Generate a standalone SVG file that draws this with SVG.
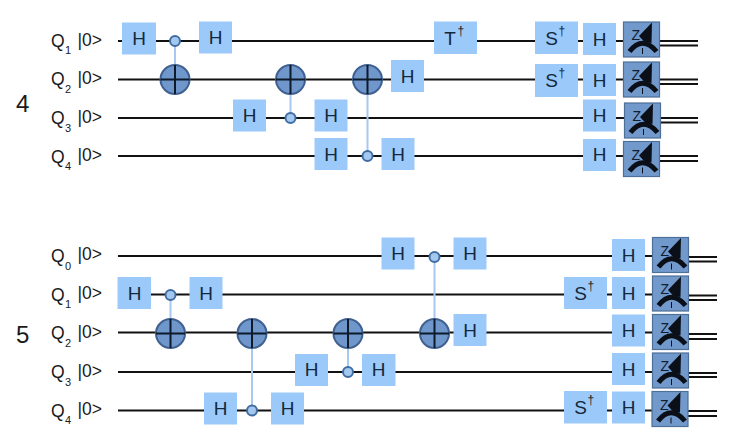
<svg xmlns="http://www.w3.org/2000/svg" width="733" height="447" viewBox="0 0 733 447">
<style>
text{font-family:"Liberation Sans",Arial,sans-serif;fill:#1a1a1a}
.w{stroke:#111;stroke-width:2;fill:none}
.v{stroke:#a8c8f0;stroke-width:2;fill:none}
.g{fill:#9bcafa}
.t{font-size:19px;text-anchor:middle;fill:#14283c}
.s{font-size:12px}
.l{font-size:17.500px}
.b{font-size:11px}
.n{font-size:24px}
.c{fill:#a3c8f0;stroke:#3f6da3;stroke-width:2}
.o{fill:#6f97cc;stroke:#3f6090;stroke-width:2}
.x{stroke:#0c1a2a;stroke-width:2}
.z{font-size:14px;fill:#10202f}
</style>
<defs>
<g id="meter">
<rect x="0" y="0" width="36" height="35" fill="#7299cb" stroke="#4e6f98" stroke-width="1.200"/>
<path d="M28.500 0.500L15.500 14L21 20L28 21Z" fill="#0a0f18"/>
<path d="M6 29.500Q19 13 33 29.500" fill="none" stroke="#0a0f18" stroke-width="5"/>
<path d="M19 26V32" stroke="#0a0f18" stroke-width="1"/>
</g>
<g id="cnot">
<circle r="14.500" class="o"/>
<path d="M-14.500 0H14.500M0 -14.500V14.500" class="x"/>
</g>
</defs>

<g id="connectors">
<path class="w" d="M118 41H623M118 79.500H623M118 118H624M118 156H623"/>
<path class="w" d="M660 41H698M660 45.500H698M660 79.500H698M660 84H698M661 118H698M661 122.500H698M660 156H698M660 161H698"/>
<path class="w" d="M118 256H652M118 294.500H652M118 332.500H652M118 372H652M118 410.500H652"/>
<path class="w" d="M689 257H717M689 261.500H717M689 295.500H717M689 300H717M689 334H717M689 339H717M689 373H717M689 377H717M688 411H717M688 416H717"/>
<path class="v" d="M175 41V79M290.500 79V118M367.500 79V156M170.500 295V333M252 333V410M348 333V372M434.500 257V333"/>
</g>

<g id="labels-4">
<text class="n" x="16" y="112">4</text>
<g id="l4q1"><text class="l" x="51" y="46.500">Q</text><text class="b" x="65" y="54">1</text><text class="l" x="77.500" y="45.500">|0&gt;</text></g>
<g id="l4q2"><text class="l" x="51" y="85">Q</text><text class="b" x="65" y="93">2</text><text class="l" x="77.500" y="84">|0&gt;</text></g>
<g id="l4q3"><text class="l" x="51" y="124">Q</text><text class="b" x="65" y="131.500">3</text><text class="l" x="77.500" y="122.500">|0&gt;</text></g>
<g id="l4q4"><text class="l" x="51" y="162.500">Q</text><text class="b" x="65" y="170">4</text><text class="l" x="77.500" y="161">|0&gt;</text></g>
</g>
<g id="labels-5">
<text class="n" x="16" y="343">5</text>
<g id="l5q0"><text class="l" x="51" y="262">Q</text><text class="b" x="65" y="270">0</text><text class="l" x="77.500" y="260">|0&gt;</text></g>
<g id="l5q1"><text class="l" x="51" y="301">Q</text><text class="b" x="65" y="307.500">1</text><text class="l" x="77.500" y="298.500">|0&gt;</text></g>
<g id="l5q2"><text class="l" x="51" y="339">Q</text><text class="b" x="65" y="346.500">2</text><text class="l" x="77.500" y="337.500">|0&gt;</text></g>
<g id="l5q3"><text class="l" x="51" y="378">Q</text><text class="b" x="65" y="386">3</text><text class="l" x="77.500" y="376.500">|0&gt;</text></g>
<g id="l5q4"><text class="l" x="51" y="416.500">Q</text><text class="b" x="65" y="424">4</text><text class="l" x="77.500" y="415">|0&gt;</text></g>
</g>

<g id="a-h1"><rect class="g" x="122" y="22.500" width="34" height="32"/><text class="t" x="139" y="45">H</text></g>
<g id="a-c1"><circle class="c" cx="175" cy="41" r="5"/></g>
<g id="a-x1"><use href="#cnot" x="175" y="79.500"/></g>
<g id="a-h2"><rect class="g" x="199" y="21.500" width="33" height="32"/><text class="t" x="215.500" y="44">H</text></g>
<g id="a-h3"><rect class="g" x="233" y="99.500" width="33" height="32"/><text class="t" x="249.500" y="122">H</text></g>
<g id="a-c2"><circle class="c" cx="290.500" cy="118" r="5"/></g>
<g id="a-x2"><use href="#cnot" x="290.500" y="79.500"/></g>
<g id="a-h4"><rect class="g" x="314.500" y="99.500" width="33" height="32"/><text class="t" x="331" y="122">H</text></g>
<g id="a-h5"><rect class="g" x="314.500" y="138" width="33" height="32"/><text class="t" x="331" y="160.500">H</text></g>
<g id="a-c3"><circle class="c" cx="367.500" cy="156" r="5"/></g>
<g id="a-x3"><use href="#cnot" x="367.500" y="79.500"/></g>
<g id="a-h6"><rect class="g" x="381.500" y="138" width="33" height="32"/><text class="t" x="398" y="160.500">H</text></g>
<g id="a-h7"><rect class="g" x="391" y="60" width="33" height="32"/><text class="t" x="407.500" y="82.500">H</text></g>
<g id="a-t"><rect class="g" x="434" y="21.500" width="43" height="32.500"/><text class="t" x="450" y="45">T</text><text class="s" x="457.500" y="35">†</text></g>
<g id="a-s1"><rect class="g" x="535" y="21.500" width="43" height="32.500"/><text class="t" x="551.500" y="45">S</text><text class="s" x="558.500" y="35">†</text></g>
<g id="a-s2"><rect class="g" x="535" y="64" width="43" height="33"/><text class="t" x="551.500" y="87">S</text><text class="s" x="558.500" y="77">†</text></g>
<g id="a-h8"><rect class="g" x="583" y="23" width="33" height="32"/><text class="t" x="599.500" y="45.500">H</text></g>
<g id="a-h9"><rect class="g" x="583" y="64" width="33" height="32"/><text class="t" x="599.500" y="87">H</text></g>
<g id="a-h10"><rect class="g" x="583" y="99.500" width="33" height="32"/><text class="t" x="599.500" y="122">H</text></g>
<g id="a-h11"><rect class="g" x="583" y="139" width="33" height="32"/><text class="t" x="599.500" y="161">H</text></g>
<g id="a-m1" transform="translate(623.500 22)"><use href="#meter"/><text class="z" x="8" y="18">Z</text></g>
<g id="a-m2" transform="translate(623.500 62)"><use href="#meter"/><text class="z" x="8" y="18">Z</text></g>
<g id="a-m3" transform="translate(624.500 103)"><use href="#meter"/><text class="z" x="8" y="18">Z</text></g>
<g id="a-m4" transform="translate(623.500 141.500)"><use href="#meter"/><text class="z" x="8" y="18">Z</text></g>

<g id="b-h1"><rect class="g" x="117.500" y="277" width="33.500" height="32"/><text class="t" x="134.500" y="299.500">H</text></g>
<g id="b-c1"><circle class="c" cx="170.500" cy="295" r="5"/></g>
<g id="b-x1"><use href="#cnot" x="170.500" y="333.500"/></g>
<g id="b-h2"><rect class="g" x="189.500" y="277" width="33" height="32"/><text class="t" x="206" y="299.500">H</text></g>
<g id="b-h3"><rect class="g" x="204" y="392.500" width="33" height="32"/><text class="t" x="220.500" y="414.500">H</text></g>
<g id="b-c2"><circle class="c" cx="252" cy="410.500" r="5"/></g>
<g id="b-x2"><use href="#cnot" x="252" y="333.500"/></g>
<g id="b-h4"><rect class="g" x="271" y="392.500" width="33" height="32"/><text class="t" x="287.500" y="414.500">H</text></g>
<g id="b-h5"><rect class="g" x="295" y="354" width="33" height="32"/><text class="t" x="311.500" y="376">H</text></g>
<g id="b-c3"><circle class="c" cx="348" cy="372" r="5"/></g>
<g id="b-x3"><use href="#cnot" x="348" y="333.500"/></g>
<g id="b-h6"><rect class="g" x="362" y="354" width="33.500" height="32"/><text class="t" x="378.500" y="376">H</text></g>
<g id="b-h7"><rect class="g" x="381.500" y="237.500" width="33" height="32"/><text class="t" x="398" y="260">H</text></g>
<g id="b-c4"><circle class="c" cx="434.500" cy="257" r="5"/></g>
<g id="b-x4"><use href="#cnot" x="434.500" y="333.500"/></g>
<g id="b-h8"><rect class="g" x="453.500" y="237.500" width="33" height="32"/><text class="t" x="470" y="260">H</text></g>
<g id="b-h9"><rect class="g" x="453.500" y="314" width="33" height="32"/><text class="t" x="470" y="336.500">H</text></g>
<g id="b-s1"><rect class="g" x="564" y="277" width="43" height="32"/><text class="t" x="580.500" y="300">S</text><text class="s" x="587.500" y="290">†</text></g>
<g id="b-s2"><rect class="g" x="564" y="391" width="43" height="32.500"/><text class="t" x="580.500" y="414">S</text><text class="s" x="587.500" y="404">†</text></g>
<g id="b-h10"><rect class="g" x="612" y="239" width="33" height="32"/><text class="t" x="628.500" y="261.500">H</text></g>
<g id="b-h11"><rect class="g" x="612" y="277" width="33" height="32"/><text class="t" x="628.500" y="299.500">H</text></g>
<g id="b-h12"><rect class="g" x="612" y="314.500" width="33" height="32"/><text class="t" x="628.500" y="337">H</text></g>
<g id="b-h13"><rect class="g" x="612" y="353" width="33" height="32"/><text class="t" x="628.500" y="375.500">H</text></g>
<g id="b-h14"><rect class="g" x="612" y="391.500" width="33" height="32"/><text class="t" x="628.500" y="414">H</text></g>
<g id="b-m1" transform="translate(652.500 237.500)"><use href="#meter"/><text class="z" x="8" y="18">Z</text></g>
<g id="b-m2" transform="translate(652.500 276)"><use href="#meter"/><text class="z" x="8" y="18">Z</text></g>
<g id="b-m3" transform="translate(652.500 314.500)"><use href="#meter"/><text class="z" x="8" y="18">Z</text></g>
<g id="b-m4" transform="translate(652.500 353)"><use href="#meter"/><text class="z" x="8" y="18">Z</text></g>
<g id="b-m5" transform="translate(652 391.500)"><use href="#meter"/><text class="z" x="8" y="18">Z</text></g>
</svg>
